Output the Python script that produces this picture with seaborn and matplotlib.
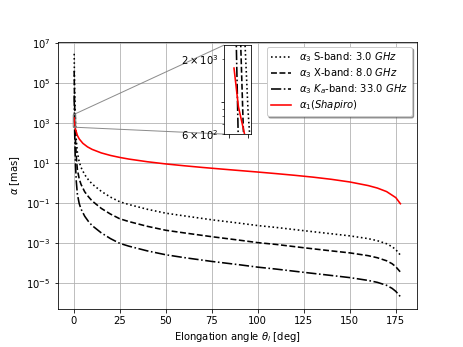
import numpy as np
import pandas as pd
import matplotlib
matplotlib.use("Agg")
import matplotlib.pyplot as plt
import matplotlib.ticker as mticker
import seaborn as sns

# elongation angles [deg] for the plasma curves
theta_plasma = [0.27, 0.35, 0.5, 0.75, 1.0, 1.4, 2, 3, 4, 6, 8, 10, 15, 20, 25, 30,
                40, 50, 60, 75, 90, 100, 110, 125, 140, 150, 160, 165, 170, 173, 175, 177.5]
alpha_s = [2.8e6, 5.4e5, 5.9e4, 4.8e3, 870, 145, 33, 11, 5.8, 2.5, 1.4, 0.87, 0.37, 0.19,
           0.112, 0.081, 0.047, 0.030, 0.022, 0.014, 0.0095, 0.0072, 0.0058, 0.0040,
           0.0028, 0.0022, 0.0016, 0.00126, 8.9e-4, 6.3e-4, 4.5e-4, 2.4e-4]
alpha_x = [3.9e5, 7.6e4, 8.3e3, 680, 123, 20.4, 4.6, 1.55, 0.82, 0.35, 0.20, 0.123, 0.052,
           0.027, 0.0158, 0.0114, 0.0066, 0.0042, 0.0031, 0.0020, 0.00134, 0.00101, 8.2e-4,
           5.6e-4, 3.9e-4, 3.1e-4, 2.25e-4, 1.77e-4, 1.25e-4, 8.9e-5, 6.3e-5, 3.4e-5]
alpha_ka = [2.3e4, 4.5e3, 490, 40, 7.2, 1.2, 0.27, 0.091, 0.048, 0.021, 0.0116, 0.0072,
            0.0031, 0.0016, 9.3e-4, 6.7e-4, 3.9e-4, 2.5e-4, 1.8e-4, 1.16e-4, 7.9e-5, 6.0e-5,
            4.8e-5, 3.3e-5, 2.3e-5, 1.8e-5, 1.3e-5, 1.04e-5, 7.4e-6, 5.2e-6, 3.7e-6, 2.0e-6]

# Shapiro deflection
theta_shapiro = [0.27, 0.5, 1, 2, 3, 5, 7.5, 10, 15, 20, 25, 30, 40, 50, 60, 70, 80, 90,
                 100, 110, 120, 130, 140, 150, 160, 165, 170, 175, 177.5]
alpha_shapiro = [1730, 930, 466, 233, 155, 93, 62, 46.5, 30.9, 23.1, 18.4, 15.2, 11.2, 8.7,
                 7.05, 5.8, 4.85, 4.07, 3.42, 2.85, 2.35, 1.90, 1.48, 1.09, 0.72, 0.54, 0.36,
                 0.18, 0.089]

labels = [r"$\alpha_3$ S-band: 3.0 $GHz$",
          r"$\alpha_3$ X-band: 8.0 $GHz$",
          r"$\alpha_3$ $K_a$-band: 33.0 $GHz$",
          r"$\alpha_1(Shapiro)$"]

fig, ax = plt.subplots(figsize=(463 / 72, 347 / 72), dpi=72)


def draw(a, with_labels):
    lab = labels if with_labels else [None] * 4
    sns.lineplot(x=theta_plasma, y=alpha_s, ax=a, color="k", linestyle=":", lw=1.6, label=lab[0], legend=False)
    sns.lineplot(x=theta_plasma, y=alpha_x, ax=a, color="k", linestyle="--", lw=1.6, label=lab[1], legend=False)
    sns.lineplot(x=theta_plasma, y=alpha_ka, ax=a, color="k", linestyle="-.", lw=1.6, label=lab[2], legend=False)
    sns.lineplot(x=theta_shapiro, y=alpha_shapiro, ax=a, color="red", linestyle="-", lw=1.6, label=lab[3], legend=False)
    a.set_yscale("log")


draw(ax, True)
ax.grid(True)
ax.set_xlabel(r"Elongation angle $\theta_l$ [deg]")
ax.set_ylabel(r"$\alpha$ [mas]")
ax.legend(loc="upper right", shadow=True, labelspacing=0.2)

# zoomed inset near the solar limb
axins = ax.inset_axes([0.463, 0.654, 0.075, 0.333])
draw(axins, False)
axins.set_xlim(-0.25, 1.15)
axins.set_ylim(600, 2500)
axins.tick_params(axis="x", labelbottom=False)
axins.yaxis.set_major_formatter(mticker.NullFormatter())
axins.set_xlabel("")
axins.set_ylabel("")
ax.indicate_inset_zoom(axins, edgecolor="0.5", alpha=0.9)

fig.savefig("out.png", dpi=72)
